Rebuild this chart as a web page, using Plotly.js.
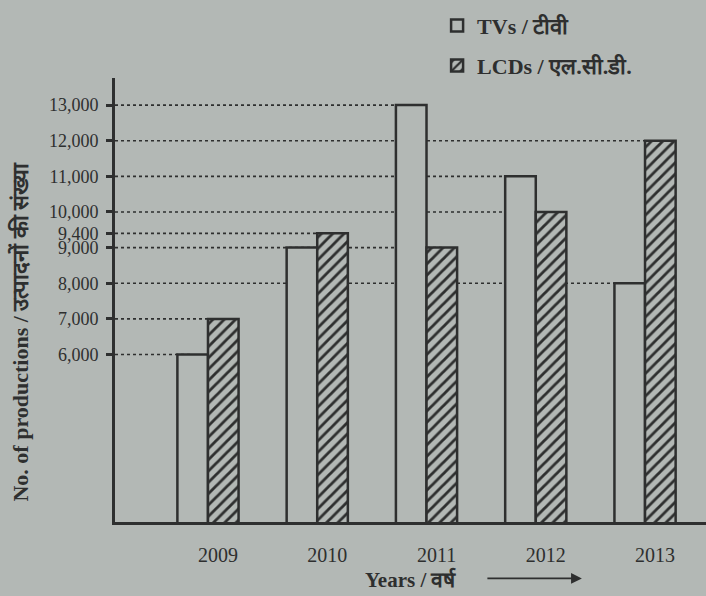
<!DOCTYPE html>
<html>
<head>
<meta charset="utf-8">
<script src="https://cdn.plot.ly/plotly-3.0.1.min.js"></script>
<style>
  html, body { margin: 0; padding: 0; background: #b3b8b5; }
  #chart { width: 706px; height: 596px; }
</style>
</head>
<body>
<div id="chart"></div>
<script>
// ---- data ----
const years = ['2009', '2010', '2011', '2012', '2013'];
const tvValues = [6000, 9000, 13000, 11000, 8000];
const lcdValues = [7000, 9400, 9000, 10000, 12000];
const yTickValues = [6000, 7000, 8000, 9000, 9400, 10000, 11000, 12000, 13000];
const tvName = 'TVs / टीवी';
const lcdName = 'LCDs / एल.सी.डी.';
const yTitle = 'No. of productions / उत्पादनों की संख्या';
const xTitle = 'Years / वर्ष';

// ---- style ----
const paper = '#b3b8b5';
const ink = '#2e2f2f';
const serif = '"Liberation Serif", "Times New Roman", serif';
const barWidth = 0.28;

const traces = [
  {
    type: 'bar', name: tvName, x: years, y: tvValues, legend: 'legend',
    marker: { color: paper, line: { color: ink, width: 2.5 } },
    hoverinfo: 'x+y'
  },
  {
    type: 'bar', name: lcdName, x: years, y: lcdValues, legend: 'legend2',
    marker: {
      color: paper,
      line: { color: ink, width: 2.5 },
      pattern: { shape: '/', fgcolor: ink, bgcolor: paper, size: 8, solidity: 0.35 }
    },
    hoverinfo: 'x+y'
  }
];

// dotted guide lines: from the axis to the farthest bar that has that value
const xStart = -0.851;
const shapes = [];
yTickValues.forEach(v => {
  let endX = null;
  for (let i = 0; i < years.length; i++) {
    if (tvValues[i] === v) endX = i - barWidth / 2;
    if (lcdValues[i] === v) endX = i + barWidth / 2;
  }
  if (endX !== null) {
    shapes.push({
      type: 'line', layer: 'below', xref: 'x', yref: 'y',
      x0: xStart, x1: endX, y0: v, y1: v,
      line: { color: ink, width: 1.6, dash: 'dot' }
    });
  }
});

const legendFont = { family: serif, size: 22, color: ink, weight: 'bold' };

const layout = {
  width: 706, height: 596,
  paper_bgcolor: paper, plot_bgcolor: paper,
  margin: { l: 115, r: 0, t: 78, b: 74 },
  font: { family: serif, color: ink },
  barmode: 'group', bargap: 0.44, bargroupgap: 0,
  showlegend: true,
  xaxis: {
    type: 'category', range: [xStart, 4.558],
    showgrid: false, zeroline: false,
    showline: true, linecolor: ink, linewidth: 3,
    ticks: '', ticklabelstandoff: 13, ticklabelshift: 10,
    tickfont: { family: serif, size: 20, color: ink }
  },
  yaxis: {
    range: [1300, 13760],
    tickmode: 'array', tickvals: yTickValues, tickformat: ',',
    showgrid: false, zeroline: false,
    showline: true, linecolor: ink, linewidth: 3,
    ticks: 'outside', ticklen: 6, tickwidth: 2.5, tickcolor: ink,
    ticklabelstandoff: 4,
    tickfont: { family: serif, size: 18, color: ink }
  },
  legend: {
    x: 0.545, y: 1.165, xanchor: 'left', yanchor: 'top',
    bgcolor: 'rgba(0,0,0,0)', font: legendFont, itemwidth: 30
  },
  legend2: {
    x: 0.545, y: 1.075, xanchor: 'left', yanchor: 'top',
    bgcolor: 'rgba(0,0,0,0)', font: legendFont, itemwidth: 30
  },
  shapes: shapes,
  annotations: [
    {
      text: yTitle, textangle: -90, xref: 'paper', yref: 'paper',
      x: -0.16, y: 0.43, xanchor: 'center', yanchor: 'middle', showarrow: false,
      font: { family: serif, size: 22, color: ink, weight: 'bold' }
    },
    {
      text: xTitle, xref: 'paper', yref: 'paper',
      x: 0.5, y: -0.13, xanchor: 'center', yanchor: 'middle', showarrow: false,
      font: { family: serif, size: 21, color: ink, weight: 'bold' }
    },
    {
      text: '', xref: 'paper', yref: 'paper',
      x: 0.79, y: -0.127, ax: -96, ay: 0,
      showarrow: true, arrowhead: 2, arrowsize: 1.2, arrowwidth: 1.8, arrowcolor: ink
    }
  ]
};

Plotly.newPlot('chart', traces, layout, { displayModeBar: false });
</script>
</body>
</html>
